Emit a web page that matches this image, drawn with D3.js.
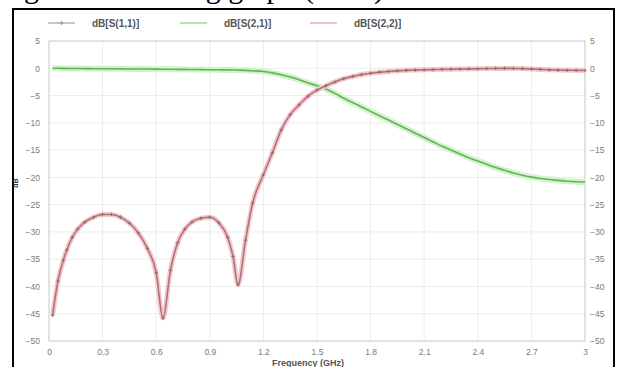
<!DOCTYPE html>
<html>
<head>
<meta charset="utf-8">
<script src="https://cdn.jsdelivr.net/npm/d3@7/dist/d3.min.js"></script>
<style>
    html, body { margin: 0; padding: 0; background: #fff; }
    #stage svg { display: block; }
</style>
</head>
<body>
<div id="stage"></div>
<script>
(function(d3) {
    'use strict';

    // frequency points in GHz
    var freq = [0.02, 0.05, 0.08, 0.1, 0.13, 0.16, 0.2, 0.25, 0.3, 0.35, 0.4, 0.45, 0.5, 0.55, 0.6, 0.638,
        0.68, 0.72, 0.76, 0.8, 0.85, 0.9, 0.95, 1.0, 1.03, 1.058, 1.1, 1.14, 1.2, 1.25, 1.3, 1.35, 1.4,
        1.45, 1.5, 1.55, 1.6, 1.65, 1.7, 1.75, 1.8, 1.85, 1.9, 1.95, 2.0, 2.05, 2.1, 2.15, 2.2, 2.25,
        2.3, 2.35, 2.4, 2.45, 2.5, 2.55, 2.6, 2.65, 2.7, 2.75, 2.8, 2.85, 2.9, 2.95, 3.0];

    var s11 = [-45.3, -39, -35.2, -33.3, -31, -29.5, -28.2, -27.3, -26.8, -26.8, -27.3, -28.4, -30.2, -33, -37.5, -45.8,
        -37, -32, -29.5, -28.2, -27.5, -27.3, -28.3, -31, -34.5, -39.7, -31.5, -24.7, -19.5, -15.5, -11.3, -8.5, -6.7,
        -5.1, -4.0, -3.2, -2.5, -1.9, -1.5, -1.15, -0.9, -0.72, -0.58, -0.47, -0.38, -0.32, -0.28, -0.24, -0.2, -0.17,
        -0.14, -0.11, -0.08, -0.05, -0.03, -0.02, -0.03, -0.06, -0.12, -0.2, -0.28, -0.33, -0.36, -0.38, -0.4];

    var s22 = s11.slice();

    var s21 = [0, 0, -0.02, -0.03, -0.04, -0.05, -0.06, -0.08, -0.09, -0.1, -0.11, -0.12, -0.13, -0.14, -0.16, -0.17,
        -0.18, -0.2, -0.21, -0.22, -0.24, -0.26, -0.28, -0.3, -0.32, -0.34, -0.38, -0.45, -0.6, -0.85, -1.2, -1.6, -2.1,
        -2.7, -3.2, -3.8, -4.6, -5.5, -6.3, -7.1, -7.9, -8.7, -9.5, -10.3, -11.1, -11.9, -12.7, -13.5, -14.3, -15.0,
        -15.7, -16.4, -17.0, -17.6, -18.2, -18.7, -19.2, -19.6, -19.95, -20.2, -20.4, -20.55, -20.7, -20.8, -20.85];

    var seriesNames = ['dB[S(1,1)]', 'dB[S(2,1)]', 'dB[S(2,2)]'];
    var xTicks = [0, 0.3, 0.6, 0.9, 1.2, 1.5, 1.8, 2.1, 2.4, 2.7, 3];
    var yTicks = [5, 0, -5, -10, -15, -20, -25, -30, -35, -40, -45, -50];
    var caption = 'Magnitude response of the designed filter using graph (ADS)';

    var width = 618,
        height = 367,
        left = 49,
        right = 585,
        top = 41,
        bottom = 341;

    var svg = d3.select('#stage')
        .append('svg')
        .attr('width', width)
        .attr('height', height);

    var x = d3.scaleLinear().domain([0, 3]).range([left, right]);
    var y = d3.scaleLinear().domain([-50, 5]).range([bottom, top]);

    // document caption above the figure, only its lower part shows
    svg.append('text')
        .attr('x', 384)
        .attr('y', -2)
        .attr('text-anchor', 'end')
        .style('font-family', '"Liberation Serif", serif')
        .style('font-size', '30px')
        .style('fill', '#000')
        .text(caption);

    // black frame
    svg.append('rect')
        .attr('x', 13)
        .attr('y', 9)
        .attr('width', 601)
        .attr('height', 380)
        .style('fill', 'none')
        .style('stroke', '#000')
        .style('stroke-width', 2);

    // grid
    svg.append('g')
        .selectAll('line')
        .data(xTicks)
        .enter()
        .append('line')
        .attr('x1', function(d) { return x(d); })
        .attr('x2', function(d) { return x(d); })
        .attr('y1', top)
        .attr('y2', bottom)
        .style('stroke', '#ececec');

    svg.append('g')
        .selectAll('line')
        .data(yTicks)
        .enter()
        .append('line')
        .attr('x1', left)
        .attr('x2', right)
        .attr('y1', function(d) { return y(d); })
        .attr('y2', function(d) { return y(d); })
        .style('stroke', '#ececec');

    svg.append('rect')
        .attr('x', left)
        .attr('y', top)
        .attr('width', right - left)
        .attr('height', bottom - top)
        .style('fill', 'none')
        .style('stroke', '#cfcfcf');

    // axes
    var leftAxis = svg.append('g')
        .attr('transform', 'translate(' + (left - 2) + ',0)')
        .call(d3.axisLeft(y).tickValues(yTicks).tickSize(0).tickPadding(7));
    var rightAxis = svg.append('g')
        .attr('transform', 'translate(' + (right + 2) + ',0)')
        .call(d3.axisRight(y).tickValues(yTicks).tickSize(0).tickPadding(3));
    var bottomAxis = svg.append('g')
        .attr('transform', 'translate(0,' + (bottom + 4) + ')')
        .call(d3.axisBottom(x).tickValues(xTicks).tickSize(0).tickPadding(4)
            .tickFormat(function(d) { return d3.format('')(d); }));

    [leftAxis, rightAxis, bottomAxis].forEach(function(a) {
        a.select('.domain').remove();
        a.selectAll('text')
            .style('font-family', '"Liberation Sans", Arial, sans-serif')
            .style('font-size', '8.5px')
            .style('fill', '#7a7a7a');
    });

    svg.append('text')
        .attr('x', 308)
        .attr('y', 366)
        .attr('text-anchor', 'middle')
        .style('font-family', '"Liberation Sans", Arial, sans-serif')
        .style('font-size', '9px')
        .style('font-weight', 'bold')
        .style('fill', '#555')
        .text('Frequency (GHz)');

    svg.append('text')
        .attr('transform', 'translate(18,' + ((top + bottom) / 2 - 8) + ') rotate(-90)')
        .attr('text-anchor', 'middle')
        .style('font-family', '"Liberation Sans", Arial, sans-serif')
        .style('font-size', '7px')
        .style('font-weight', 'bold')
        .style('fill', '#333')
        .text('dB');

    // curves
    var line = function(vals) {
        return d3.line()
            .x(function(d, i) { return x(freq[i]); })
            .y(function(d) { return y(d); })
            .curve(d3.curveMonotoneX)(vals);
    };

    var plot = svg.append('g');

    plot.append('path').attr('d', line(s21))
        .style('fill', 'none').style('stroke', '#d2f2cc').style('stroke-width', 6);
    plot.append('path').attr('d', line(s21))
        .style('fill', 'none').style('stroke', '#5fb655').style('stroke-width', 1.6);

    plot.append('path').attr('d', line(s22))
        .style('fill', 'none').style('stroke', '#f4c8ce').style('stroke-width', 5);
    plot.append('path').attr('d', line(s22))
        .style('fill', 'none').style('stroke', '#d97a86').style('stroke-width', 1.6);
    plot.append('path').attr('d', line(s11))
        .style('fill', 'none').style('stroke', '#8e7374').style('stroke-width', 0.8);

    plot.selectAll('.mark')
        .data(s11)
        .enter()
        .append('path')
        .attr('class', 'mark')
        .attr('d', function(d, i) {
            var cx = x(freq[i]), cy = y(d);
            return 'M' + (cx - 1.8) + ',' + cy + 'H' + (cx + 1.8) + 'M' + cx + ',' + (cy - 1.8) + 'V' + (cy + 1.8);
        })
        .style('stroke', '#8c6466')
        .style('stroke-width', 0.8);

    // legend
    var legendX = [48, 180, 310];
    var legendCol = ['#a8a8a8', '#8fd486', '#e7a1aa'];
    var legend = svg.append('g')
        .selectAll('g')
        .data(seriesNames)
        .enter()
        .append('g')
        .attr('transform', function(d, i) { return 'translate(' + legendX[i] + ',23)'; });

    legend.append('line')
        .attr('x1', 0).attr('x2', 27)
        .style('stroke', function(d, i) { return legendCol[i]; })
        .style('stroke-width', 1.3);
    legend.filter(function(d, i) { return i === 0; })
        .append('path')
        .attr('d', 'M13.5,-2V2M11.5,0H15.5')
        .style('stroke', '#999');
    legend.append('text')
        .attr('x', 44)
        .attr('y', 3.5)
        .style('font-family', '"Liberation Sans", Arial, sans-serif')
        .style('font-size', '10px')
        .style('font-weight', 'bold')
        .style('fill', '#555')
        .text(function(d) { return d; });

})(window.d3);
</script>
</body>
</html>
